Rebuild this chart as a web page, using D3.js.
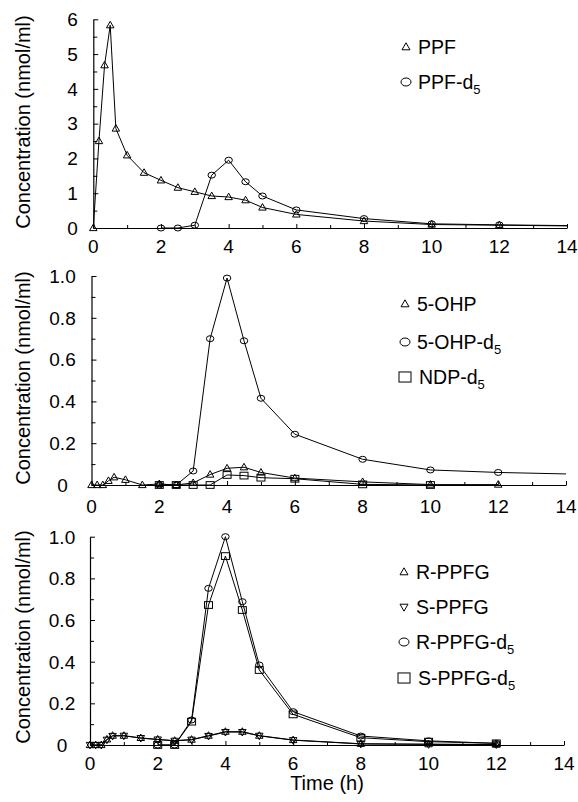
<!DOCTYPE html>
<html>
<head>
<meta charset="utf-8">
<script src="https://cdn.jsdelivr.net/npm/d3@7"></script>
<style>
  html, body { margin: 0; padding: 0; background: #fff; }
  svg { display: block; }
  text { font-family: "Liberation Sans", Arial, Helvetica, sans-serif; fill: #000; }
</style>
</head>
<body>
<svg id="chart" width="578" height="802"></svg>
<script>
// ---------- DATA ----------
const timesEarly = [0, 0.167, 0.333, 0.5, 0.667, 1, 1.5, 2, 2.5, 3, 3.5, 4, 4.5, 5, 6, 8, 10, 12];
const timesLabel = [2, 2.5, 3, 3.5, 4, 4.5, 5, 6, 8, 10, 12];
const timesNdp = [2, 2.5, 3, 3.5, 4, 4.5, 5, 6, 8, 10];
const tailTime = 14;

// Panel A
const ppf    = [0, 2.5, 4.68, 5.83, 2.86, 2.09, 1.59, 1.37, 1.16, 1.04, 0.92, 0.89, 0.80, 0.59, 0.39, 0.20, 0.10, 0.08];
const ppfTail = 0.06;
const ppfD5  = [0, 0, 0.08, 1.52, 1.95, 1.33, 0.92, 0.52, 0.27, 0.12, 0.09];
const ppfD5Tail = 0.07;

// Panel B
const ohp    = [0, 0, 0, 0.02, 0.037, 0.025, 0, 0.005, 0, 0.01, 0.05, 0.08, 0.085, 0.06, 0.033, 0.015, 0.002, 0.002];
const ohpD5  = [0, 0, 0.067, 0.70, 0.99, 0.69, 0.415, 0.243, 0.123, 0.072, 0.06];
const ohpD5Tail = 0.053;
const ndpD5  = [0, 0, 0, 0, 0.048, 0.045, 0.035, 0.03, 0.003, 0];

// Panel C
const rPpfg   = [0, 0, 0, 0.027, 0.045, 0.045, 0.034, 0.027, 0.021, 0.026, 0.045, 0.064, 0.064, 0.045, 0.024, 0.006, 0.004, 0.002];
const sPpfg   = [0, 0, 0, 0.025, 0.043, 0.044, 0.033, 0.026, 0.020, 0.025, 0.043, 0.062, 0.062, 0.044, 0.023, 0.005, 0.003, 0.002];
const rPpfgD5 = [0, 0, 0.12, 0.752, 1.0, 0.688, 0.384, 0.16, 0.043, 0.02, 0.008];
const sPpfgD5 = [0, 0, 0.112, 0.672, 0.907, 0.648, 0.36, 0.147, 0.035, 0.016, 0.008];

// Axis ticks
const xTicks = [0, 2, 4, 6, 8, 10, 12, 14];
const xMinor = [1, 3, 5, 7, 9, 11, 13];
const yTicksA = [0, 1, 2, 3, 4, 5, 6];
const yMinorA = [0.5, 1.5, 2.5, 3.5, 4.5, 5.5];
const yTicksB = [0, 0.2, 0.4, 0.6, 0.8, 1.0];
const yMinorB = [0.1, 0.3, 0.5, 0.7, 0.9];
const yLabelsB = ["0", "0.2", "0.4", "0.6", "0.8", "1.0"];

const yTitle = "Concentration (nmol/ml)";
const xTitle = "Time (h)";

// ---------- LAYOUT ----------
const svg = d3.select("#chart");

const panels = [
  {
    x0: 93.3, x1: 567, yBottom: 228, yTop: 19.3, yMax: 6,
    yTicks: yTicksA, yMinor: yMinorA, yFmt: d => String(d), yLabelX: 72.5,
    xLabelY: 253, titleY: 122,
    series: [
      { name: "PPF", sub: null, shape: "tri", t: timesEarly, v: ppf, tail: ppfTail },
      { name: "PPF-d", sub: "5", shape: "circ", t: timesLabel, v: ppfD5, tail: ppfD5Tail }
    ],
    legend: { x: 406, y: [47, 82] }
  },
  {
    x0: 91.5, x1: 566, yBottom: 485, yTop: 276, yMax: 1,
    yTicks: yTicksB, yMinor: yMinorB, yFmt: (d, i) => yLabelsB[i], yLabelX: 62.5,
    xLabelY: 513, titleY: 378,
    series: [
      { name: "5-OHP", sub: null, shape: "tri", t: timesEarly, v: ohp, tail: null },
      { name: "5-OHP-d", sub: "5", shape: "circ", t: timesLabel, v: ohpD5, tail: ohpD5Tail },
      { name: "NDP-d", sub: "5", shape: "sq", t: timesNdp, v: ndpD5, tail: null }
    ],
    legend: { x: 405, y: [304, 342, 377] }
  },
  {
    x0: 90, x1: 564, yBottom: 745, yTop: 536.7, yMax: 1,
    yTicks: yTicksB, yMinor: yMinorB, yFmt: (d, i) => yLabelsB[i], yLabelX: 62,
    xLabelY: 770, titleY: 637,
    series: [
      { name: "R-PPFG", sub: null, shape: "tri", t: timesEarly, v: rPpfg, tail: null },
      { name: "S-PPFG", sub: null, shape: "dtri", t: timesEarly, v: sPpfg, tail: null },
      { name: "R-PPFG-d", sub: "5", shape: "circ", t: timesLabel, v: rPpfgD5, tail: null },
      { name: "S-PPFG-d", sub: "5", shape: "sq", t: timesLabel, v: sPpfgD5, tail: null }
    ],
    legend: { x: 404, y: [572, 607, 642, 678] }
  }
];

function drawMarker(g, shape, cx, cy, s) {
  if (shape === "tri") {
    const h = s * 0.87;
    g.append("path")
      .attr("d", `M${cx},${cy - h * 0.6}L${cx + s / 2},${cy + h * 0.4}L${cx - s / 2},${cy + h * 0.4}Z`)
      .attr("fill", "none").attr("stroke", "#000").attr("stroke-width", 1);
  } else if (shape === "dtri") {
    const h = s * 0.87;
    g.append("path")
      .attr("d", `M${cx},${cy + h * 0.6}L${cx + s / 2},${cy - h * 0.4}L${cx - s / 2},${cy - h * 0.4}Z`)
      .attr("fill", "none").attr("stroke", "#000").attr("stroke-width", 1);
  } else if (shape === "circ") {
    g.append("ellipse")
      .attr("cx", cx).attr("cy", cy).attr("rx", s / 2).attr("ry", s * 0.4)
      .attr("fill", "none").attr("stroke", "#000").attr("stroke-width", 1);
  } else if (shape === "sq") {
    g.append("rect")
      .attr("x", cx - s / 2).attr("y", cy - s * 0.42).attr("width", s).attr("height", s * 0.84)
      .attr("fill", "none").attr("stroke", "#000").attr("stroke-width", 1);
  }
}

panels.forEach(p => {
  const x = d3.scaleLinear().domain([0, 14]).range([p.x0, p.x1]);
  const y = d3.scaleLinear().domain([0, p.yMax]).range([p.yBottom, p.yTop]);
  const g = svg.append("g");

  // x axis line + inward ticks
  const xAx = g.append("g").attr("transform", `translate(0,${p.yBottom})`)
    .call(d3.axisBottom(x).tickValues(xTicks).tickSizeInner(-4).tickSizeOuter(0).tickFormat(""));
  xAx.select(".domain").attr("stroke", "#000").attr("stroke-width", 1.2);
  xAx.selectAll(".tick line").attr("stroke", "#000");
  g.append("g").attr("transform", `translate(0,${p.yBottom})`)
    .call(d3.axisBottom(x).tickValues(xMinor).tickSizeInner(-3).tickSizeOuter(0).tickFormat(""))
    .call(a => a.select(".domain").remove())
    .selectAll(".tick line").attr("stroke", "#000");

  // x tick labels
  g.selectAll(".xl").data(xTicks).enter().append("text")
    .attr("x", d => x(d)).attr("y", p.xLabelY)
    .attr("text-anchor", "middle").attr("font-size", 19).text(d => d);

  // y axis
  const yAx = g.append("g").attr("transform", `translate(${p.x0},0)`)
    .call(d3.axisLeft(y).tickValues(p.yTicks).tickSizeInner(-5).tickSizeOuter(0).tickFormat(""));
  yAx.select(".domain").attr("stroke", "#000").attr("stroke-width", 1.2);
  yAx.selectAll(".tick line").attr("stroke", "#000");
  g.append("g").attr("transform", `translate(${p.x0},0)`)
    .call(d3.axisLeft(y).tickValues(p.yMinor).tickSizeInner(-4).tickSizeOuter(0).tickFormat(""))
    .call(a => a.select(".domain").remove())
    .selectAll(".tick line").attr("stroke", "#000");

  g.selectAll(".yl").data(p.yTicks).enter().append("text")
    .attr("x", p.yLabelX).attr("y", d => y(d)).attr("dy", "0.36em")
    .attr("text-anchor", "middle").attr("font-size", 19).text((d, i) => p.yFmt(d, i));

  // y title
  g.append("text")
    .attr("transform", `translate(30,${p.titleY}) rotate(-90)`)
    .attr("text-anchor", "middle").attr("font-size", 20).text(yTitle);

  // series
  const line = d3.line().x(d => x(d[0])).y(d => y(d[1]));
  p.series.forEach(s => {
    const pts = s.t.map((t, i) => [t, s.v[i]]);
    const linePts = s.tail != null ? pts.concat([[tailTime, s.tail]]) : pts;
    g.append("path").datum(linePts).attr("d", line)
      .attr("fill", "none").attr("stroke", "#000").attr("stroke-width", 1);
    const mg = g.append("g");
    pts.forEach(d => drawMarker(mg, s.shape, x(d[0]), y(d[1]), s.shape === "sq" ? 8 : 7.5));
  });

  // legend
  p.series.forEach((s, i) => {
    const ly = p.legend.y[i];
    const lg = g.append("g");
    const size = s.shape === "sq" ? 12 : (s.shape === "circ" ? 10 : 8);
    drawMarker(lg, s.shape, p.legend.x, ly, size);
    const tx = lg.append("text")
      .attr("x", p.legend.x + (s.shape === "sq" ? 14 : 12))
      .attr("y", ly + 6.5)
      .attr("font-size", 19.5);
    tx.append("tspan").text(s.name);
    if (s.sub) tx.append("tspan").attr("font-size", 13).attr("dy", 5).text(s.sub);
  });
});

// x axis title
svg.append("text").attr("x", 327).attr("y", 790)
  .attr("text-anchor", "middle").attr("font-size", 20).text(xTitle);
</script>
</body>
</html>
